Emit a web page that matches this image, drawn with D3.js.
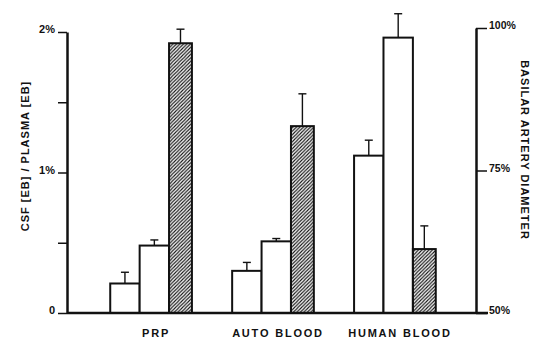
<!DOCTYPE html>
<html>
<head>
<meta charset="utf-8">
<script src="https://cdn.jsdelivr.net/npm/d3@7"></script>
<style>
  body { margin: 0; background: #fff; }
  text { font-family: "Liberation Sans", Arial, sans-serif; font-weight: bold; fill: #111; }
</style>
</head>
<body>
<script>
// groups along the bottom
var groups = ["PRP", "AUTO BLOOD", "HUMAN BLOOD"];
// first white bar (value, top of error bar)
var white1 = [0.21, 0.30, 1.12];
var white1Err = [0.29, 0.36, 1.23];
// second white bar
var white2 = [0.48, 0.51, 1.96];
var white2Err = [0.52, 0.53, 2.13];
// hatched bar
var hatched = [1.92, 1.33, 0.455];
var hatchedErr = [2.02, 1.56, 0.62];
// tick values
var leftTicks = [0, 0.5, 1, 1.5, 2];
var rightTicks = [50, 75, 100];

var W = 533, H = 342;
var svg = d3.select("body").append("svg").attr("width", W).attr("height", H);

var defs = svg.append("defs");
defs.append("pattern")
    .attr("id", "hatch")
    .attr("patternUnits", "userSpaceOnUse")
    .attr("width", 3.5).attr("height", 3.5)
  .append("path")
    .attr("d", "M-1,1 l2,-2 M0,3.5 l3.5,-3.5 M2.5,4.5 l2,-2")
    .attr("stroke", "#111").attr("stroke-width", 1.1);

const yL = d3.scaleLinear().domain([0, 2]).range([313, 32]);
const yR = d3.scaleLinear().domain([50, 100]).range([313, 28]);
const x = d3.scaleBand().domain(groups).range([70, 476]).paddingInner(0.33).paddingOuter(0.33);
// position inside a group, 0..1 of the band
const sub = d3.scaleLinear().domain([0, 1]).range([0, x.bandwidth()]);

var series = [
    {vals: white1, errs: white1Err, from: 0, to: 0.36, fill: "#fff"},
    {vals: white2, errs: white2Err, from: 0.36, to: 0.72, fill: "#fff"},
    {vals: hatched, errs: hatchedErr, from: 0.72, to: 1.0, fill: "url(#hatch)"}
];

series.forEach(function (s) {
    groups.forEach(function (g, i) {
        var x0 = x(g) + sub(s.from), x1 = x(g) + sub(s.to);
        var cx = (x0 + x1) / 2;
        // error bar
        svg.append("line")
            .attr("x1", cx).attr("x2", cx)
            .attr("y1", yL(s.vals[i])).attr("y2", yL(s.errs[i]))
            .attr("stroke", "#111").attr("stroke-width", 1.4);
        svg.append("line")
            .attr("x1", cx - 4).attr("x2", cx + 4)
            .attr("y1", yL(s.errs[i])).attr("y2", yL(s.errs[i]))
            .attr("stroke", "#111").attr("stroke-width", 1.4);
        svg.append("rect")
            .attr("x", x0).attr("width", x1 - x0)
            .attr("y", yL(s.vals[i])).attr("height", yL(0) - yL(s.vals[i]))
            .attr("fill", s.fill)
            .attr("stroke", "#111").attr("stroke-width", 2);
    });
});

// baseline
svg.append("line")
    .attr("x1", 67).attr("x2", 488)
    .attr("y1", yL(0)).attr("y2", yL(0))
    .attr("stroke", "#111").attr("stroke-width", 2.5);

// left axis
const yAxis = d3.axisLeft(yL).tickValues(leftTicks).tickSize(9).tickSizeOuter(0).tickPadding(3)
    .tickFormat(d => d === 0 ? "0" : (d % 1 === 0 ? d + "%" : ""));
const gl = svg.append("g").attr("transform", "translate(67,0)").call(yAxis);
gl.select(".domain").attr("stroke-width", 2.5).attr("stroke", "#111");
gl.selectAll(".tick line").attr("stroke", "#111").attr("stroke-width", 1.5);
gl.selectAll(".tick text").attr("font-size", 11).attr("font-family", null).attr("dy", "0.05em");

// right axis
const rAxis = d3.axisRight(yR).tickValues(rightTicks).tickSize(11).tickSizeOuter(0).tickPadding(2)
    .tickFormat(d => d + "%");
const gr = svg.append("g").attr("transform", "translate(476,0)").call(rAxis);
gr.select(".domain").attr("stroke-width", 2.5).attr("stroke", "#111");
gr.selectAll(".tick line").attr("stroke", "#111").attr("stroke-width", 1.5);
gr.selectAll(".tick text").attr("font-size", 10.5).attr("font-family", null).attr("dy", "0.05em");

// group labels
groups.forEach(function (g) {
    svg.append("text")
        .attr("x", x(g) + x.bandwidth() / 2 + 5)
        .attr("y", 337)
        .attr("text-anchor", "middle")
        .attr("font-size", 11)
        .attr("letter-spacing", 1.8)
        .text(g);
});

// axis titles
svg.append("text")
    .attr("transform", "translate(29,156) rotate(-90)")
    .attr("text-anchor", "middle")
    .attr("font-size", 11)
    .attr("letter-spacing", 1)
    .text("CSF [EB] / PLASMA [EB]");

svg.append("text")
    .attr("transform", "translate(521,150) rotate(90)")
    .attr("text-anchor", "middle")
    .attr("font-size", 11)
    .attr("letter-spacing", 1)
    .text("BASILAR ARTERY DIAMETER");
</script>
</body>
</html>
